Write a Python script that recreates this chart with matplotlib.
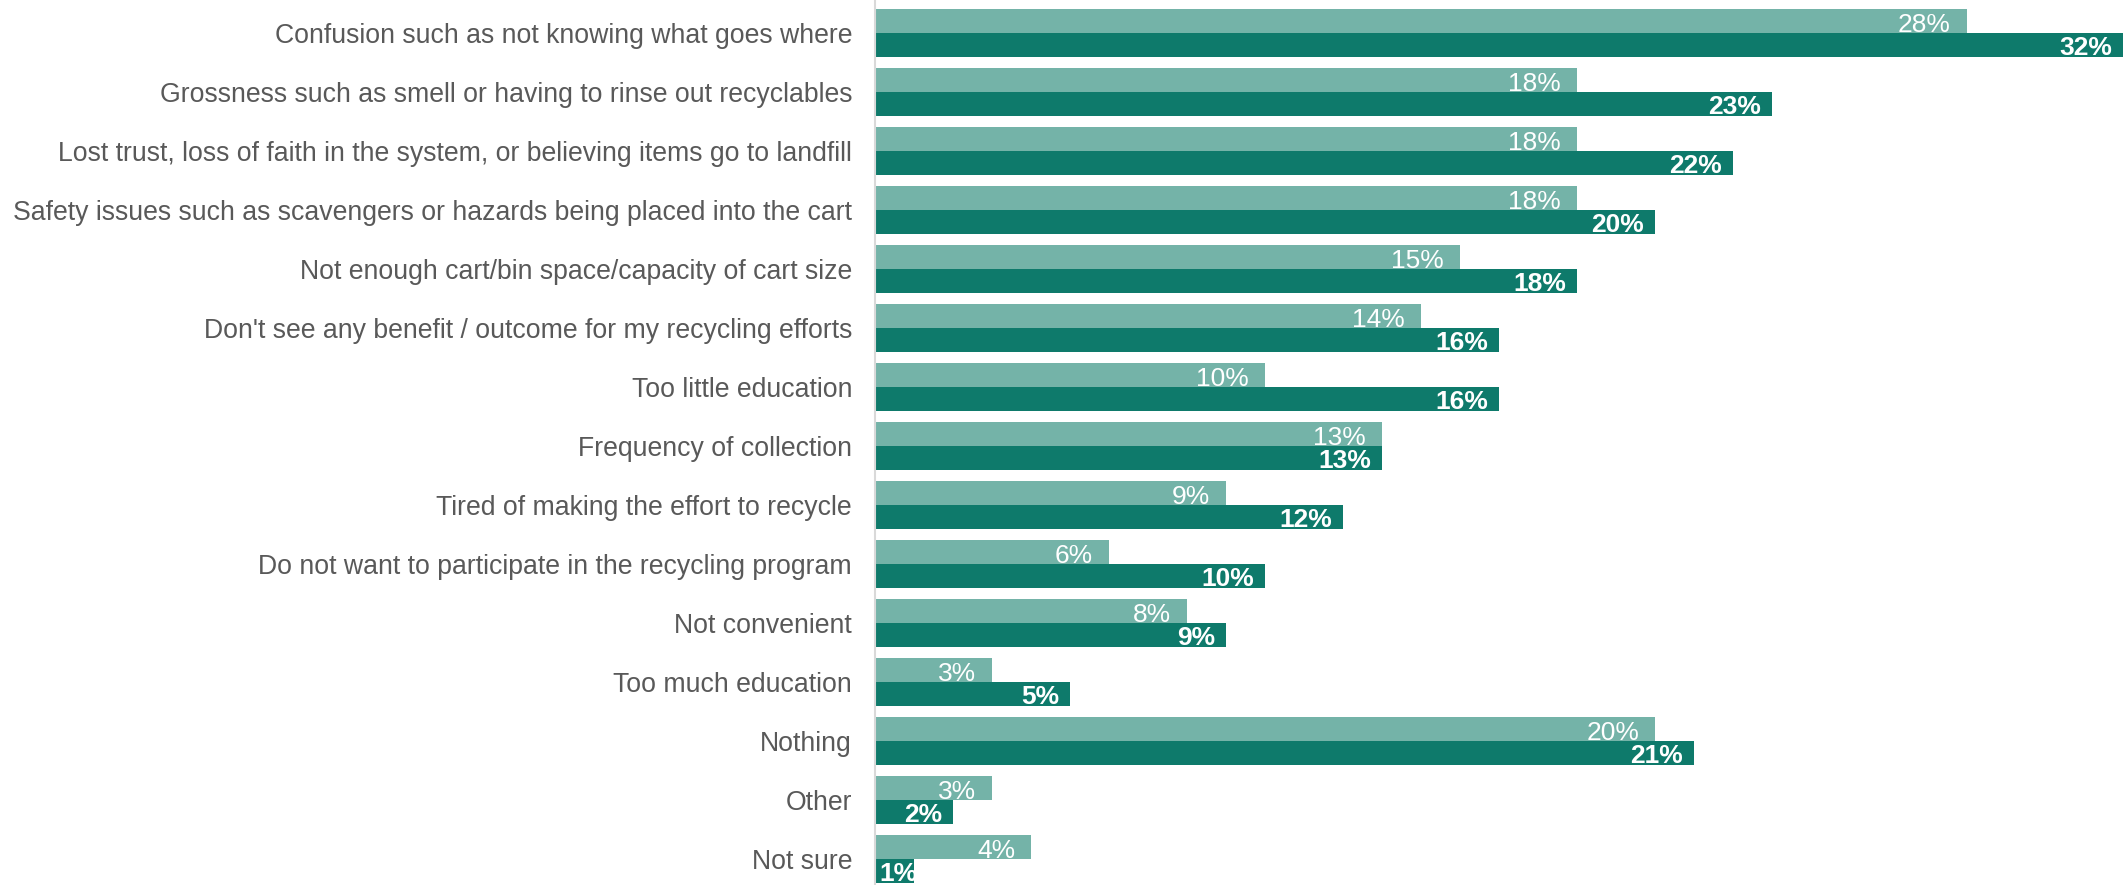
import matplotlib
matplotlib.use("Agg")
import matplotlib.pyplot as plt
import numpy as np

plt.rcParams['font.family'] = ['Liberation Sans', 'DejaVu Sans']

categories = [
    "Confusion such as not knowing what goes where",
    "Grossness such as smell or having to rinse out recyclables",
    "Lost trust, loss of faith in the system, or believing items go to landfill",
    "Safety issues such as scavengers or hazards being placed into the cart",
    "Not enough cart/bin space/capacity of cart size",
    "Don't see any benefit / outcome for my recycling efforts",
    "Too little education",
    "Frequency of collection",
    "Tired of making the effort to recycle",
    "Do not want to participate in the recycling program",
    "Not convenient",
    "Too much education",
    "Nothing",
    "Other",
    "Not sure",
]
earlier_wave = [28, 18, 18, 18, 15, 14, 10, 13, 9, 6, 8, 3, 20, 3, 4]
latest_wave = [32, 23, 22, 20, 18, 16, 16, 13, 12, 10, 9, 5, 21, 2, 1]

LIGHT = "#74B3A8"
DARK = "#0E7A6B"
TEXT_GREY = "#595959"

W, H, DPI = 2126, 885, 100
fig = plt.figure(figsize=(W / DPI, H / DPI), dpi=DPI)

# axes spans from the category axis to the right edge, full height
left_px = 875
ax = fig.add_axes([left_px / W, 0, 1 - left_px / W, 1])

px_per_unit = 39.0
ax.set_xlim(0, (W - left_px) / px_per_unit)

group_px = 59.0
first_center_px = 33.0
ax.set_ylim((H - first_center_px) / group_px, -first_center_px / group_px)

y = np.arange(len(categories))
bh = 0.4
ax.barh(y - bh / 2, earlier_wave, height=bh, color=LIGHT, edgecolor="none")
ax.barh(y + bh / 2, latest_wave, height=bh, color=DARK, edgecolor="none")

label_size = 19
baseline_shift = 0.165  # half the cap height, in category units


def bar_label(value, ycenter, offset_px, weight):
    text = f"{value}%"
    if value * px_per_unit < 50:
        # short bar: start the label near the axis instead of the bar end
        ax.annotate(text, xy=(0, ycenter + baseline_shift), xytext=(4, 0),
                    textcoords="offset pixels", ha="left", va="baseline",
                    color="white", fontsize=label_size, fontweight=weight)
    else:
        ax.annotate(text, xy=(value, ycenter + baseline_shift), xytext=(-offset_px, 0),
                    textcoords="offset pixels", ha="right", va="baseline",
                    color="white", fontsize=label_size, fontweight=weight)


for i, (a, b) in enumerate(zip(earlier_wave, latest_wave)):
    bar_label(a, i - bh / 2 + 0.01, 16, "normal")
    bar_label(b, i + bh / 2, 11, "bold")

ax.set_yticks(y)
ax.set_yticklabels(categories, fontsize=19.2, color=TEXT_GREY)
ax.tick_params(axis="y", length=0, pad=16.5)
ax.set_xticks([])

for side in ["top", "right", "bottom"]:
    ax.spines[side].set_visible(False)
ax.spines["left"].set_color("#D9D9D9")
ax.spines["left"].set_linewidth(1.5)

fig.savefig("out.png", dpi=DPI)
